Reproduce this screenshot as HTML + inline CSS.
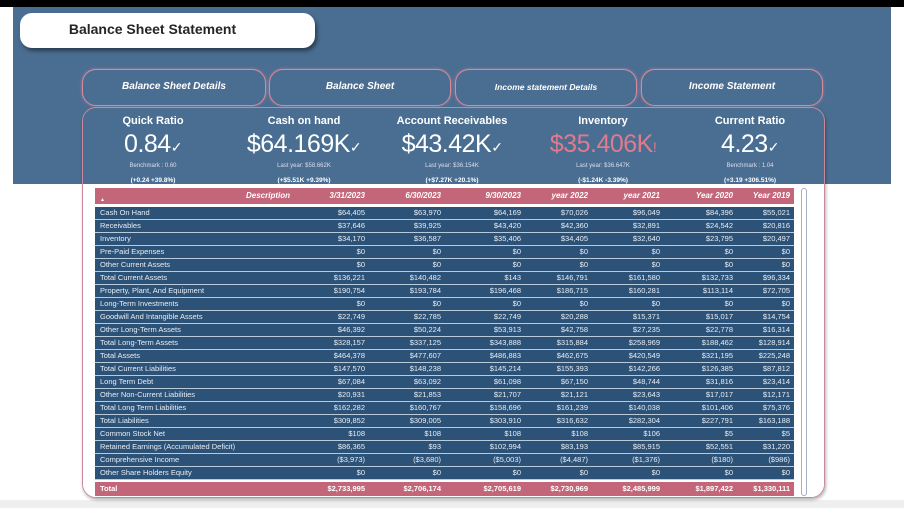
<!DOCTYPE html>
<html><head><meta charset="utf-8">
<style>
*{box-sizing:border-box;margin:0;padding:0}
body{width:904px;height:508px;overflow:hidden;background:#fff;font-family:"Liberation Sans",sans-serif;position:relative}
.abs{position:absolute}
#topbar{left:0;top:0;width:904px;height:7px;background:#000}
#bluebg{left:13px;top:7px;width:878px;height:177px;background:#4a6e92}
#bottomstrip{left:0;top:500px;width:904px;height:8px;background:#efefef}
#title{left:20px;top:13px;width:295px;height:35px;background:#fff;border-radius:12px;box-shadow:2px 3px 4px rgba(0,0,0,.45);font-weight:bold;font-size:14px;color:#252525;text-align:center;line-height:33px;padding-right:30px}
.nav{top:69px;height:37px;border:1.5px solid #d98a9c;border-radius:14px;background:#4a6e92;color:#fff;font-weight:bold;font-style:italic;font-size:10px;text-align:center;line-height:34px;box-shadow:0 0 3px rgba(230,140,160,.6)}
#card{left:82px;top:107px;width:743px;height:391px;border-radius:14px;border:1.5px solid #c9889a;background:transparent;box-shadow:1px 2px 3px rgba(0,0,0,.3)}
#cardbottom{left:83px;top:184px;width:741px;height:313px;background:#fff;border-radius:0 0 13px 13px}
.kpi{top:114px;width:150px;text-align:center;color:#fff}
.kpi .t{font-size:11px;font-weight:bold;height:14px;line-height:14px}
.kpi .v{font-size:25px;height:32px;line-height:32px;letter-spacing:-0.5px}
.kpi .s{font-size:6px;color:#dde;margin-top:2px;height:8px;line-height:8px}
.kpi .d{font-size:6.5px;color:#fff;margin-top:7px;font-weight:bold;line-height:8px}
#tbl{left:95px;top:188px;width:699px}
#hdr{position:absolute;left:0;top:0;width:699px;height:16px;background:#c4667a;color:#fff;font-weight:bold;font-style:italic;font-size:8px}
.row{position:absolute;left:0;width:699px;height:13px;background:#2d5278;color:#e8eef4;font-size:7.5px;border-bottom:1px solid #b9cadb}
.cell{position:absolute;top:0;line-height:12px;white-space:nowrap}
#scroll{left:801px;top:188px;width:6px;height:308px;border:1px solid #9fb0c4;border-radius:3px;background:#fff}
</style></head><body>
<div class="abs" id="topbar"></div>
<div class="abs" id="bluebg"></div>
<div class="abs" id="bottomstrip"></div>
<div class="abs" id="title">Balance Sheet Statement</div>
<div class="abs nav" style="left:82px;width:184px">Balance Sheet Details</div>
<div class="abs nav" style="left:269px;width:182px">Balance Sheet</div>
<div class="abs nav" style="left:455px;width:182px;font-size:8.5px">Income statement Details</div>
<div class="abs nav" style="left:641px;width:182px">Income Statement</div>
<div class="abs" id="card"></div>
<div class="abs" id="cardbottom"></div>

<div class="abs kpi" style="left:78px"><div class="t">Quick Ratio</div><div class="v">0.84<span style="font-size:14px">✓</span></div><div class="s">Benchmark : 0.60</div><div class="d">(+0.24 +39.8%)</div></div>
<div class="abs kpi" style="left:229px"><div class="t">Cash on hand</div><div class="v">$64.169K<span style="font-size:14px">✓</span></div><div class="s">Last year: $58.662K</div><div class="d">(+$5.51K +9.39%)</div></div>
<div class="abs kpi" style="left:377px"><div class="t">Account Receivables</div><div class="v">$43.42K<span style="font-size:14px">✓</span></div><div class="s">Last year: $36.154K</div><div class="d">(+$7.27K +20.1%)</div></div>
<div class="abs kpi" style="left:528px"><div class="t">Inventory</div><div class="v" style="color:#e07a8e">$35.406K<span style="font-size:14px">!</span></div><div class="s">Last year: $36.647K</div><div class="d">(-$1.24K -3.39%)</div></div>
<div class="abs kpi" style="left:675px"><div class="t">Current Ratio</div><div class="v">4.23<span style="font-size:14px">✓</span></div><div class="s">Benchmark : 1.04</div><div class="d">(+3.19 +306.51%)</div></div>

<div class="abs" id="tbl">
<div id="hdr"></div>
</div>
<div class="abs" id="scroll"></div>

<script>
const columns = ["3/31/2023","6/30/2023","9/30/2023","year 2022","year 2021","Year 2020","Year 2019"];
const descriptions = ["Cash On Hand","Receivables","Inventory","Pre-Paid Expenses","Other Current Assets","Total Current Assets","Property, Plant, And Equipment","Long-Term Investments","Goodwill And Intangible Assets","Other Long-Term Assets","Total Long-Term Assets","Total Assets","Total Current Liabilities","Long Term Debt","Other Non-Current Liabilities","Total Long Term Liabilities","Total Liabilities","Common Stock Net","Retained Earnings (Accumulated Deficit)","Comprehensive Income","Other Share Holders Equity"];
const values = [
["$64,405","$63,970","$64,169","$70,026","$96,049","$84,396","$55,021"],
["$37,646","$39,925","$43,420","$42,360","$32,891","$24,542","$20,816"],
["$34,170","$36,587","$35,406","$34,405","$32,640","$23,795","$20,497"],
["$0","$0","$0","$0","$0","$0","$0"],
["$0","$0","$0","$0","$0","$0","$0"],
["$136,221","$140,482","$143","$146,791","$161,580","$132,733","$96,334"],
["$190,754","$193,784","$196,468","$186,715","$160,281","$113,114","$72,705"],
["$0","$0","$0","$0","$0","$0","$0"],
["$22,749","$22,785","$22,749","$20,288","$15,371","$15,017","$14,754"],
["$46,392","$50,224","$53,913","$42,758","$27,235","$22,778","$16,314"],
["$328,157","$337,125","$343,888","$315,884","$258,969","$188,462","$128,914"],
["$464,378","$477,607","$486,883","$462,675","$420,549","$321,195","$225,248"],
["$147,570","$148,238","$145,214","$155,393","$142,266","$126,385","$87,812"],
["$67,084","$63,092","$61,098","$67,150","$48,744","$31,816","$23,414"],
["$20,931","$21,853","$21,707","$21,121","$23,643","$17,017","$12,171"],
["$162,282","$160,767","$158,696","$161,239","$140,038","$101,406","$75,376"],
["$309,852","$309,005","$303,910","$316,632","$282,304","$227,791","$163,188"],
["$108","$108","$108","$108","$106","$5","$5"],
["$86,365","$93","$102,994","$83,193","$85,915","$52,551","$31,220"],
["($3,973)","($3,680)","($5,003)","($4,487)","($1,376)","($180)","($986)"],
["$0","$0","$0","$0","$0","$0","$0"]
];
const totals = ["$2,733,995","$2,706,174","$2,705,619","$2,730,969","$2,485,999","$1,897,422","$1,330,111"];
const colRight = [270,346,426,493,565,638,695];
const tbl = document.getElementById('tbl');
const hdr = document.getElementById('hdr');
function cell(parent, text, right, style){
  const c = document.createElement('div');
  c.className='cell';
  
  
  c.textContent=text;
  c.style.right=(699-right)+'px';
  if(style) c.style.cssText+=style;
  parent.appendChild(c);
  return c;
}
cell(hdr,'Description',195,'line-height:15px');
columns.forEach((t,i)=>cell(hdr,t,colRight[i],'line-height:15px'));
const arrow=document.createElement('div');


arrow.textContent='▲';
arrow.style.cssText='position:absolute;left:5px;top:9px;font-size:5px;color:#fff';
hdr.appendChild(arrow);
descriptions.forEach((d,r)=>{
  const row=document.createElement('div');
  row.className='row';
  
  
  row.style.top=(19+r*13)+'px';
  const l=document.createElement('div');
  l.className='cell';
  
  
  l.style.left='5px';
  l.textContent=d;
  row.appendChild(l);
  values[r].forEach((v,i)=>cell(row,v,colRight[i]));
  tbl.appendChild(row);
});
const tr=document.createElement('div');
tr.className='row';


tr.style.cssText='top:'+(19+descriptions.length*13+2)+'px;background:#c4667a;font-weight:bold;color:#fff;height:14px;border:none';
const tl=document.createElement('div');
tl.className='cell';


tl.style.left='5px';
tl.style.lineHeight='14px';
tl.textContent='Total';
tr.appendChild(tl);
totals.forEach((v,i)=>cell(tr,v,colRight[i],'line-height:14px'));
tbl.appendChild(tr);
</script>
</body></html>
